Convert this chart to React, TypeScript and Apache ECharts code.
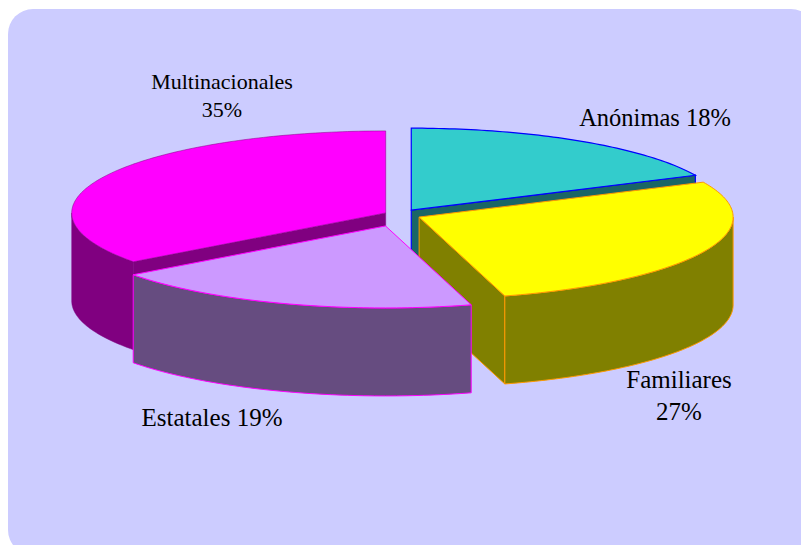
import React, { useEffect, useRef } from "react";
import * as echarts from "echarts";

const categories = ["Anónimas", "Familiares", "Estatales", "Multinacionales"];
const sliceValues = [18, 27.6, 19.25, 35.15];
const shownPercents = [18, 27, 19, 35];

// layout and style of the drawing
const BASE_X = 400;
const BASE_Y = 214.8;
const RX = 314;
const RY = 82;
const DEPTH = 88;
const explode = [21, 21, 45, 16];
const topColors = ["#33CCCC", "#FFFF00", "#CC99FF", "#FF00FF"];
const sideColors = ["#1A6666", "#808000", "#664C80", "#800080"];
const edgeColors = ["#0000FF", "#FF9900", "#FF00FF", "#800080"];
const edgeWidths = [1.2, 1, 1, 0.5];
const labelAnchors: [number, number, number][] = [
  [655, 117, 28],
  [679, 395, 32],
  [212, 417, 28],
  [222, 95, 28],
];
const labelSizes = [24.5, 25, 25, 22];
const labelBreaks = [false, true, false, true];
const LABEL_FONT = "Liberation Serif";

const total = sliceValues.reduce((a, b) => a + b, 0);

function App() {
  const ref = useRef<HTMLDivElement>(null);
  useEffect(() => {
    const chart = echarts.init(ref.current!, undefined, { renderer: "svg" });
    const renderItem = (params: any, api: any) => {
      const i = params.dataIndex;
      let before = 0;
      for (let k = 0; k < i; k++) before += sliceValues[k];
      const value = api.value(0);
      const a0 = (before / total) * 2 * Math.PI;
      const a1 = ((before + value) / total) * 2 * Math.PI;
      const mid = (a0 + a1) / 2;
      const cx = BASE_X + explode[i] * Math.sin(mid);
      const cy = BASE_Y - (explode[i] * Math.cos(mid) * RY) / RX;
      const pt = (a: number, dz = 0): number[] => [
        cx + RX * Math.sin(a),
        cy - RY * Math.cos(a) + dz,
      ];
      const arc = (from: number, to: number, dz = 0) => {
        const out: number[][] = [];
        const n = Math.max(2, Math.ceil((Math.abs(to - from) * 180) / Math.PI));
        for (let s = 0; s <= n; s++) out.push(pt(from + ((to - from) * s) / n, dz));
        return out;
      };
      const face = (points: number[][], fill: string, z2: number) => ({
        type: "polygon",
        z2,
        shape: { points },
        style: { fill, stroke: edgeColors[i], lineWidth: edgeWidths[i] },
      });
      const z = Math.round(cy) * 10;
      const children: any[] = [];
      // cut faces that look toward the viewer
      const eps = 1e-6;
      const cuts: number[] = [];
      if (Math.sin(a0) < -eps) cuts.push(a0);
      if (Math.sin(a1) > eps) cuts.push(a1);
      cuts.forEach((a) => {
        children.push(
          face([[cx, cy], pt(a), pt(a, DEPTH), [cx, cy + DEPTH]], sideColors[i], z)
        );
      });
      // outer wall on the front half of the ellipse
      const w0 = Math.max(a0, Math.PI / 2);
      const w1 = Math.min(a1, (3 * Math.PI) / 2);
      if (w1 > w0) {
        children.push(face([...arc(w0, w1), ...arc(w1, w0, DEPTH)], sideColors[i], z + 1));
      }
      // top face
      children.push(face([[cx, cy], ...arc(a0, a1)], topColors[i], z + 2));
      return { type: "group", children };
    };
    const labelTexts = categories.map(
      (c, i) => `${c}${labelBreaks[i] ? "\n" : " "}${shownPercents[i]}%`
    );
    chart.setOption({
      animation: false,
      graphic: [
        {
          type: "rect",
          z: 0,
          shape: { x: 8, y: 9, width: 808, height: 546, r: 25 },
          style: { fill: "#CCCCFF" },
          silent: true,
        },
        ...labelTexts.map((t, i) => ({
          type: "text",
          z: 10,
          x: labelAnchors[i][0],
          y: labelAnchors[i][1],
          style: {
            text: t,
            fill: "#000000",
            font: `${labelSizes[i]}px "${LABEL_FONT}"`,
            align: "center",
            verticalAlign: "middle",
            lineHeight: labelAnchors[i][2],
          },
        })),
      ],
      series: [
        {
          type: "custom",
          coordinateSystem: "none",
          renderItem,
          silent: true,
          data: sliceValues.map((v, i) => ({ name: categories[i], value: [v] })),
        },
      ],
    });
    return () => chart.dispose();
  }, []);
  return (
    <div
      ref={ref}
      style={{ position: "absolute", left: 0, top: 0, width: 801, height: 545, overflow: "hidden", background: "#fff" }}
    />
  );
}

export default App;
